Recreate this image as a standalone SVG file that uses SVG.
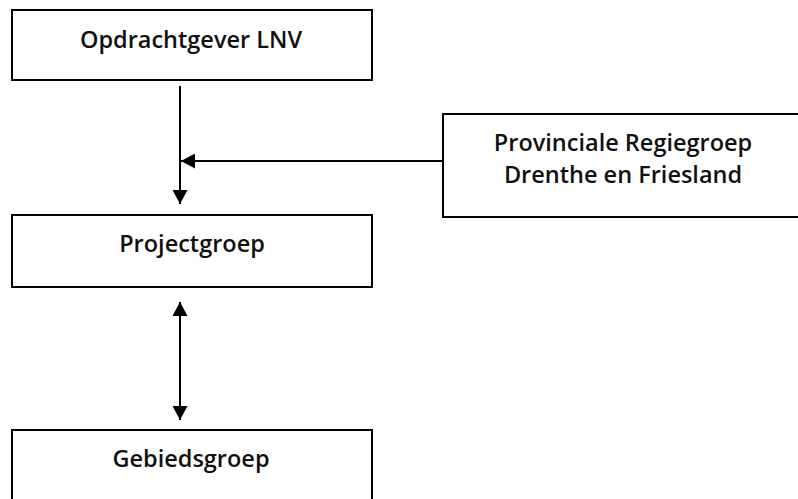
<svg xmlns="http://www.w3.org/2000/svg" width="798" height="499" viewBox="0 0 798 499">
<style>
.box{fill:#fff;stroke:#000;stroke-width:2}
.lbl{font-family:"Open Sans","Noto Sans",sans-serif;font-weight:600;font-size:23.5px;fill:#111;text-anchor:middle}
.con{stroke:#000;stroke-width:2;fill:none}
</style>
<defs>
<marker id="ah" markerWidth="15" markerHeight="15" refX="14" refY="7.5" orient="auto" markerUnits="userSpaceOnUse">
<path d="M0,0 L14,7.5 L0,15 Z" fill="#000"/>
</marker>
<marker id="ahs" markerWidth="15" markerHeight="15" refX="0" refY="7.5" orient="auto" markerUnits="userSpaceOnUse">
<path d="M14,0 L0,7.5 L14,15 Z" fill="#000"/>
</marker>
</defs>
<g id="n1"><rect class="box" x="12" y="10" width="360" height="70"/><text class="lbl" x="191" y="48">Opdrachtgever LNV</text></g>
<g id="n2"><rect class="box" x="443" y="114" width="360" height="103"/><text class="lbl" x="623" y="151">Provinciale Regiegroep</text><text class="lbl" x="623" y="183">Drenthe en Friesland</text></g>
<g id="n3"><rect class="box" x="12" y="215" width="360" height="72"/><text class="lbl" x="192" y="252">Projectgroep</text></g>
<g id="n4"><rect class="box" x="12" y="430" width="360" height="80"/><text class="lbl" x="191" y="467">Gebiedsgroep</text></g>
<g id="connectors">
<line class="con" x1="180" y1="86" x2="180" y2="204" marker-end="url(#ah)"/>
<line class="con" x1="443" y1="161" x2="181" y2="161" marker-end="url(#ah)"/>
<line class="con" x1="180" y1="302" x2="180" y2="420" marker-start="url(#ahs)" marker-end="url(#ah)"/>
</g>
</svg>
